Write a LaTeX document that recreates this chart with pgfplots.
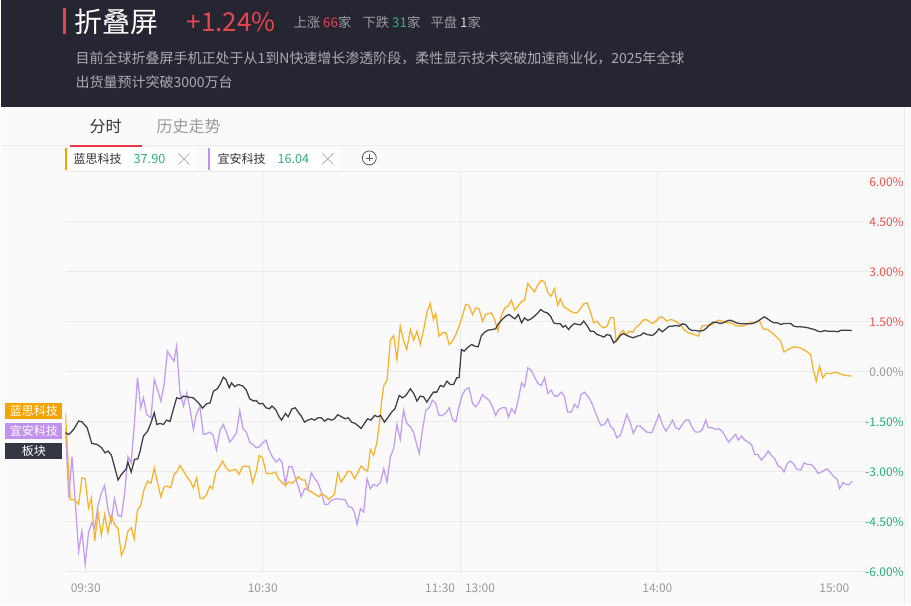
\documentclass[border=0pt]{standalone}
\usepackage{fontspec}
\setmainfont{Noto Sans CJK SC}
\usepackage{pgfplots}
\pgfplotsset{compat=1.18}
\definecolor{hdr}{HTML}{262633}
\definecolor{bgc}{HTML}{FAFAFA}
\definecolor{cor}{HTML}{F9B22C}
\definecolor{cpu}{HTML}{C49CF3}
\definecolor{cbk}{HTML}{3D3E48}
\definecolor{tagor}{HTML}{F5A300}
\definecolor{tagpu}{HTML}{C291EE}
\definecolor{tagbk}{HTML}{343844}
\definecolor{tr}{HTML}{F0504A}
\definecolor{tg}{HTML}{22B07A}
\definecolor{tgy}{HTML}{9A9A9A}
\definecolor{gridc}{HTML}{ECECEC}
\definecolor{hred}{HTML}{E8454F}
\definecolor{hgrn}{HTML}{2DB37C}
\definecolor{hgray}{HTML}{9C9CA4}
\definecolor{dgray}{HTML}{ABABB3}
\definecolor{tabred}{HTML}{E8394A}
\newcommand\fs[1]{\fontsize{#1}{#1}\selectfont}
\begin{document}
\begin{tikzpicture}
\begin{scope}[x=0.75pt,y=-0.75pt]
\fill[bgc] (0,0) rectangle (911,605);
\fill[hdr] (0,0) rectangle (911,107);
\fill[hred] (63,8) rectangle (66,34);
\node[anchor=west,inner sep=0pt,text=white,font=\fs{21pt}] at (74,22) {折叠屏};
\node[anchor=west,inner sep=0pt,text=hred,font=\fs{19.5pt}] at (186,22) {+1.24\%};
\node[anchor=west,inner sep=0pt,text=hgray,font=\fs{10pt}] at (293,22) {上涨 \textcolor{hred}{66}家};
\node[anchor=west,inner sep=0pt,text=hgray,font=\fs{10pt}] at (362,22) {下跌 \textcolor{hgrn}{31}家};
\node[anchor=west,inner sep=0pt,text=hgray,font=\fs{10pt}] at (430,22) {平盘 \textcolor{white!85!black}{1}家};
\node[anchor=west,inner sep=0pt,text=dgray,font=\fs{10.5pt}] at (75,58) {目前全球折叠屏手机正处于从1到N快速增长渗透阶段，柔性显示技术突破加速商业化，2025年全球};
\node[anchor=west,inner sep=0pt,text=dgray,font=\fs{10.5pt}] at (75,82) {出货量预计突破3000万台};
\draw[gridc,line width=0.75pt] (0,146) -- (904,146);
\fill[tabred] (70,144.8) rectangle (142,147.3);
\node[anchor=west,inner sep=0pt,text=black!80,font=\fs{12pt}] at (89,127) {分时};
\node[anchor=west,inner sep=0pt,text=tgy,font=\fs{12pt}] at (156,127) {历史走势};
% legend chips
\fill[white] (65,148) rectangle (195,170);
\fill[tagor] (65,148) rectangle (67,170);
\node[anchor=west,inner sep=0pt,text=black!80,font=\fs{9pt}] at (73,159) {蓝思科技};
\node[anchor=west,inner sep=0pt,text=hgrn,font=\fs{9.5pt}] at (133,159) {37.90};
\draw[black!30,line width=0.6pt] (178,153.5) -- (189,164.5) (178,164.5) -- (189,153.5);
\fill[white] (208,148) rectangle (339,170);
\fill[tagpu] (208,148) rectangle (210,170);
\node[anchor=west,inner sep=0pt,text=black!80,font=\fs{9pt}] at (217,159) {宜安科技};
\node[anchor=west,inner sep=0pt,text=hgrn,font=\fs{9.5pt}] at (277,159) {16.04};
\draw[black!30,line width=0.6pt] (322,153.5) -- (333,164.5) (322,164.5) -- (333,153.5);
\draw[black!65,line width=0.6pt] (369,158) circle (7);
\draw[black!65,line width=0.6pt] (365.5,158) -- (372.5,158) (369,154.5) -- (369,161.5);
\end{scope}
\begin{axis}[
  at={(48.75pt,-429pt)}, anchor=south west,
  scale only axis, width=629.25pt, height=300pt,
  xmin=0, xmax=255, ymin=-6, ymax=6,
  axis line style={draw=none}, tick style={draw=none},
  clip mode=individual,
  xtick={0,60,120,180,240},
  xticklabels={\hbox to 0pt{\hspace*{4pt}09:30\hss}, 10:30, 11:30\hspace{7.5pt}13:00, 14:00, \hbox to 0pt{\hss 15:00\hspace*{4pt}}},
  extra x ticks={60,120,180}, extra x tick labels={},
  extra x tick style={xmajorgrids=true},
  ytick={-6,-4.5,-3,-1.5,0,1.5,3,4.5,6},
  yticklabels={\textcolor{tg}{-6.00\%},\textcolor{tg}{-4.50\%},\textcolor{tg}{-3.00\%},\textcolor{tg}{-1.50\%},\textcolor{tgy}{0.00\%},\textcolor{tr}{1.50\%},\textcolor{tr}{3.00\%},\textcolor{tr}{4.50\%},{}},
  yticklabel pos=right,
  ymajorgrids=true, xmajorgrids=false,
  major grid style={gridc,line width=0.75pt},
  yticklabel style={anchor=east,inner sep=0pt,font=\fs{9pt}},
  xticklabel style={anchor=north,inner sep=0pt,font=\fs{9pt},text=tgy,yshift=-9pt},
]
\addplot[cpu,line width=0.95pt] coordinates {
(0,-1.7) (1,-3.78) (2,-2.55) (3,-3.93) (4,-5.38) (5,-4.78) (6,-5.78) (7,-4.83) (8,-4.53) (8.9,-4.68) (9.9,-4.01) (10.9,-3.65) (11.9,-3.41) (12.9,-4.11) (13.9,-4.51) (14.9,-3.81) (16,-4.31) (17,-4.35) (18,-3.65) (19,-2.55) (20,-2.73) (20.9,-1.63) (21.9,-0.18) (22.9,-1.08) (23.7,-0.78) (24.7,-1.28) (26,-1.38) (27,-0.23) (28,-0.53) (29,-0.88) (30,-0.38) (31,0.62) (32,0.45) (33,0.32) (33.8,0.77) (34.8,-0.61) (35.9,-1.03) (36.9,-0.63) (37.9,-1.13) (38.9,-1.73) (39.9,-1.23) (40.9,-1.05) (41.9,-1.88) (42.9,-1.86) (43.9,-1.81) (44.9,-1.90) (45.9,-2.35) (47,-1.75) (48,-1.58) (49,-1.83) (50,-2.11) (51,-1.98) (52,-1.83) (53,-1.16) (54,-1.71) (55,-1.81) (56,-2.11) (57,-2.18) (58,-2.28) (59,-2.25) (60,-2.13) (61,-2.05) (61.9,-2.35)
(63.1,-2.58) (64.1,-2.71) (65.1,-2.61) (65.9,-2.73) (66.9,-3.38) (67.9,-2.85) (68.9,-2.85) (69.9,-3.18) (70.9,-3.48) (71.7,-3.75) (72.7,-3.51) (73.7,-3.53) (74.8,-3.03) (75.8,-3.21) (76.8,-3.33) (77.8,-3.61) (78.8,-3.98) (79.8,-3.98) (80.8,-3.86) (81.8,-3.83) (82.8,-3.81) (84,-3.83) (85,-3.83) (86.1,-4.05) (87.1,-4.08) (87.9,-4.23) (88.7,-4.58) (89.7,-4.11) (90.7,-4.21) (91.7,-3.21) (92.7,-3.51) (93.7,-3.38) (94.7,-3.43) (95.8,-3.31) (96.8,-2.91) (97.8,-3.31) (98.8,-2.55) (99.8,-2.31) (100.8,-1.58) (101.8,-2.03) (102.8,-1.15) (103.8,-1.55) (104.9,-1.65) (105.9,-1.83) (106.9,-2.23) (107.6,-2.45) (108.6,-1.71) (109.6,-1.15) (110.6,-1.08) (111.6,-0.85) (112.6,-0.95) (113.6,-1.31) (114.6,-1.31) (115.7,-1.23) (116.7,-1.08) (117.7,-1.43) (118.7,-1.51)
(119.7,-1.03) (120.7,-0.68) (121.7,-0.53) (122.7,-0.48) (123.8,-0.95) (124.8,-1.05) (125.8,-0.91) (126.8,-0.68) (127.8,-0.78) (128.8,-0.85) (129.8,-1.03) (130.8,-1.31) (131.8,-1.13) (132.8,-1.08) (133.9,-1.08) (134.7,-1.36) (135.7,-1.11) (136.7,-1.25) (137.7,-0.83) (138.7,-0.33) (139.6,-0.45) (140.6,0.12) (141.6,0.05) (142.6,-0.15) (143.7,-0.35) (144.7,-0.41) (145.7,-0.18) (146.7,-0.65) (147.7,-0.55) (148.7,-0.73) (149.7,-0.73) (150.7,-0.61) (151.7,-0.73) (152.7,-1.21) (153.8,-1.21) (154.8,-0.98) (155.8,-1.08) (156.8,-0.68) (157.8,-0.61) (158.8,-0.73) (159.8,-0.88) (160.8,-1.13) (161.8,-1.38) (162.8,-1.61) (163.9,-1.58) (164.9,-1.41) (165.7,-1.63) (166.7,-1.73) (167.7,-1.98) (168.7,-1.91) (169.7,-1.61) (170.7,-1.28) (171.7,-1.51) (172.7,-1.85) (173.8,-1.63) (174.8,-1.63) (175.8,-1.73) (176.8,-1.81)
(178.3,-1.83) (179.5,-1.53) (180.5,-1.28) (181.5,-1.58) (182.6,-1.78) (183.6,-1.63) (184.6,-1.45) (185.6,-1.68) (186.6,-1.73) (187.6,-1.58) (188.6,-1.45) (189.6,-1.45) (190.6,-1.68) (191.6,-1.81) (192.7,-1.81) (193.7,-1.73) (194.7,-1.45) (195.5,-1.68) (196.7,-1.68) (197.7,-1.73) (198.7,-1.71) (199.7,-1.78) (200.7,-1.95) (201.7,-2.11) (202.8,-1.98) (203.8,-1.88) (204.6,-2.05) (205.6,-1.93) (206.6,-2.05) (207.6,-2.11) (208.6,-2.18) (209.6,-2.48) (210.6,-2.48) (211.6,-2.65) (212.7,-2.53) (213.7,-2.38) (214.7,-2.51) (215.7,-2.61) (216.7,-2.83) (217.7,-2.88) (218.5,-3.01) (219.5,-2.75) (220.5,-2.68) (221.5,-2.78) (222.5,-2.93) (223.6,-2.95) (224.6,-2.73) (225.6,-2.78) (226.8,-2.78) (227.8,-2.88) (228.8,-3.05) (229.8,-3.01) (230.8,-2.95) (231.6,-2.91) (232.7,-3.03) (233.7,-3.15) (234.7,-3.23) (235.4,-3.51) (236.4,-3.33) (237.4,-3.38) (238.4,-3.38) (239.2,-3.28)
};
\addplot[cor,line width=0.95pt] coordinates {
(0,-1.23) (0.7,-2.53) (1.5,-3.83) (2.7,-3.83) (4,-3.98) (5,-3.18) (6,-3.21) (7,-4.08) (7.9,-3.78) (8.9,-5.08) (9.9,-4.21) (10.9,-4.91) (11.9,-4.28) (12.9,-4.83) (13.9,-4.31) (14.9,-4.58) (16,-4.71) (17,-5.51) (18,-5.28) (19,-4.78) (20,-4.68) (20.9,-5.01) (21.9,-4.15) (22.9,-4.01) (23.9,-3.53) (25,-3.28) (26,-3.35) (27,-2.88) (28,-3.33) (29,-3.75) (30,-3.45) (31,-3.43) (32,-3.48) (33,-3.08) (34,-2.98) (34.8,-2.81) (35.9,-2.98) (36.9,-3.15) (37.9,-3.28) (38.9,-3.48) (39.9,-3.18) (40.9,-3.78) (41.9,-3.81) (42.9,-3.68) (43.9,-3.43) (44.7,-3.51) (45.7,-3.01) (46.7,-2.88) (47.8,-2.68) (48.8,-2.88) (49.8,-2.98) (50.8,-2.95) (51.8,-2.93) (52.8,-3.08) (53.8,-2.85) (54.8,-2.83) (55.9,-2.85) (56.9,-3.33) (57.9,-3.03) (58.9,-2.51) (59.9,-2.58) (61.1,-3.05)
(62.8,-3.05) (63.8,-3.01) (64.9,-3.23) (65.9,-3.33) (66.9,-3.41) (67.9,-3.31) (68.9,-3.35) (69.9,-3.25) (70.9,-3.15) (71.9,-3.25) (72.9,-3.25) (73.7,-3.55) (74.9,-3.61) (76,-3.68) (77,-3.75) (78,-3.65) (79,-3.73) (80,-3.83) (81,-3.75) (81.8,-3.68) (82.8,-3.03) (83.8,-3.31) (84.9,-3.15) (85.9,-2.98) (86.9,-3.01) (87.9,-3.21) (88.9,-3.03) (89.9,-2.83) (90.9,-2.93) (91.9,-2.98) (92.7,-2.33) (93.7,-2.51) (94.7,-2.13) (95.6,-1.43) (96.2,-0.83) (96.8,-0.41) (97.8,-0.25) (98.8,0.95) (99.8,1.09) (100.8,0.37) (101.8,1.37) (102.8,0.95) (103.8,0.67) (104.9,1.27) (105.9,0.95) (106.9,1.22) (107.9,0.82) (108.9,1.25) (109.9,1.77) (110.9,2.05) (111.9,1.57) (112.6,1.75) (113.6,1.07) (114.6,1.17) (115.7,1.17) (116.7,0.82) (117.7,0.92) (118.7,1.12)
(119.7,1.37) (120.7,1.67) (121.7,2.02) (122.7,1.99) (123.8,1.72) (124.8,1.92) (125.8,1.89) (126.8,1.52) (127.8,1.72) (129.5,1.77) (130.5,1.57) (131.5,1.22) (132.5,1.67) (133.6,1.92) (134.6,1.97) (135.6,2.15) (136.6,1.85) (137.6,1.97) (138.6,2.10) (139.6,2.15) (140.6,2.65) (141.6,2.52) (142.6,2.40) (143.7,2.62) (144.7,2.75) (145.7,2.69) (146.7,2.37) (147.7,2.27) (148.7,2.49) (149.7,1.99) (150.5,2.19) (151.5,1.95) (152.5,1.89) (153.6,1.82) (154.6,1.77) (155.6,1.77) (156.6,1.89) (157.6,2.04) (158.6,2.07) (159.6,1.82) (160.6,1.47) (161.6,1.52) (162.6,1.39) (163.7,1.32) (164.7,1.37) (165.7,1.62) (166.7,1.62) (167.5,0.92) (168.5,1.12) (169.5,1.25) (170.5,1.12) (171.5,1.22) (172.5,1.19) (173.6,1.35) (174.6,1.42) (175.6,1.55) (176.6,1.57)
(178.5,1.45) (179.5,1.52) (180.8,1.65) (181.8,1.62) (182.9,1.52) (183.9,1.57) (184.9,1.55) (185.9,1.49) (186.9,1.42) (187.9,1.29) (189.4,1.17) (190.6,1.14) (192.5,1.07) (193.5,1.37) (194.7,1.40) (196,1.39) (197.2,1.45) (198.5,1.55) (199.7,1.52) (201,1.47) (202.5,1.47) (203.8,1.39) (205.1,1.37) (206.6,1.39) (208.1,1.47) (209.6,1.49) (211.1,1.52) (212.1,1.29) (213.5,1.27) (214.9,1.17) (216.2,1.05) (217.5,0.92) (218.5,0.59) (219.7,0.67) (221.5,0.75) (223.3,0.72) (224.8,0.65) (226.6,0.52) (227.3,0.12) (228.3,-0.28) (229.3,0.17) (230.3,-0.18) (231.3,-0.05) (232.7,-0.05) (234.4,-0.01) (235.9,-0.08) (237.4,-0.11) (239.1,-0.13)
};
\addplot[cbk,line width=0.95pt] coordinates {
(0,-1.83) (1,-1.88) (2.5,-1.73) (4,-1.48) (5,-1.50) (6.6,-1.68) (8,-2.15) (9.6,-2.18) (11,-2.28) (12,-2.43) (13,-2.38) (14,-2.51) (15,-2.88) (16,-3.25) (17,-3.08) (18.4,-2.93) (19,-2.71) (20,-3.01) (21,-2.63) (22,-2.61) (22.7,-2.38) (23.7,-1.93) (25,-1.78) (26,-1.53) (27,-1.23) (27.8,-1.58) (28.8,-1.55) (29.8,-1.58) (30.8,-1.45) (31.8,-1.49) (32.8,-1.13) (33.8,-0.78) (34.8,-0.81) (35.9,-0.73) (37.4,-0.76) (38.9,-0.78) (40.4,-0.93) (41.7,-1.09) (42.9,-0.96) (44,-0.93) (45,-0.58) (46.2,-0.51) (47,-0.38) (48,-0.16) (48.8,-0.23) (49.8,-0.48) (50.5,-0.33) (51.5,-0.45) (52.5,-0.38) (54,-0.43) (55,-0.55) (56,-0.81) (57.3,-0.88) (58,-0.86) (58.9,-0.96) (60,-0.95) (61,-1.08) (62,-1.11)
(62.8,-1.03) (63.9,-1.13) (64.9,-1.33) (65.7,-1.45) (66.9,-1.25) (67.7,-1.35) (68.9,-1.11) (69.9,-1.08) (70.9,-1.23) (71.7,-1.33) (72.7,-1.51) (73.7,-1.45) (74.8,-1.41) (75.8,-1.45) (76.8,-1.38) (77.8,-1.38) (78.8,-1.48) (79.8,-1.41) (81,-1.45) (81.8,-1.41) (82.8,-1.29) (84,-1.35) (85,-1.41) (86,-1.38) (87,-1.51) (88.1,-1.55) (89.1,-1.63) (89.9,-1.70) (90.9,-1.55) (91.9,-1.41) (92.9,-1.45) (94,-1.31) (95,-1.35) (95.8,-1.31) (97,-1.51) (98,-1.38) (99.2,-1.21) (100.2,-1.11) (101.5,-0.71) (102.5,-0.78) (103.5,-0.71) (104.9,-0.51) (105.9,-0.65) (106.9,-0.88) (107.9,-0.73) (108.9,-0.75) (109.9,-0.91) (110.9,-0.75) (111.9,-0.61) (112.9,-0.61) (114,-0.41) (115,-0.45) (116,-0.28) (117,-0.38) (118,-0.38) (119,-0.18) (119.7,-0.18)
(120.4,0.67) (121.2,0.62) (122.2,0.72) (123.5,0.82) (124.5,0.77) (125.5,0.75) (126.5,1.09) (127.5,1.19) (128.5,1.25) (129.8,1.27) (130.8,1.29) (131.5,1.42) (132.8,1.57) (133.9,1.67) (134.9,1.72) (135.9,1.64) (136.7,1.59) (137.7,1.72) (138.7,1.47) (139.6,1.62) (140.6,1.54) (141.6,1.59) (142.6,1.67) (143.7,1.77) (144.5,1.87) (145.5,1.80) (146.5,1.77) (147.5,1.67) (148.5,1.47) (149.5,1.44) (150.5,1.44) (151.3,1.34) (152,1.39) (153,1.27) (153.8,1.37) (154.8,1.45) (155.8,1.42) (156.6,1.41) (157.6,1.52) (158.6,1.39) (159.6,1.22) (160.6,1.22) (161.6,1.12) (162.6,1.09) (163.7,1.04) (164.7,1.12) (165.7,1.09) (166.7,0.87) (167.7,0.95) (168.7,1.09) (169.7,1.15) (170.7,1.09) (171.7,1.05) (172.7,1.02) (173.8,1.07) (174.8,1.09) (175.8,1.17) (176.8,1.12)
(178.5,1.09) (179.5,1.17) (180.5,1.29) (181.5,1.20) (182.6,1.29) (183.6,1.37) (184.6,1.37) (185.6,1.39) (186.6,1.37) (187.6,1.44) (188.6,1.42) (189.6,1.29) (190.6,1.24) (191.6,1.24) (192.7,1.22) (194,1.24) (195,1.32) (196,1.42) (197,1.49) (198,1.49) (199,1.45) (200,1.47) (201,1.52) (202,1.55) (203,1.52) (204,1.47) (205,1.45) (206,1.44) (207,1.44) (208,1.44) (209,1.45) (210,1.49) (211,1.55) (212.5,1.65) (213.5,1.59) (214.5,1.52) (215.5,1.47) (216.5,1.47) (217.5,1.42) (218.5,1.45) (219.5,1.45) (220.5,1.45) (221.5,1.37) (222.5,1.35) (223.5,1.35) (224.8,1.34) (225.8,1.32) (226.8,1.29) (227.8,1.27) (228.8,1.22) (229.8,1.20) (230.8,1.24) (231.8,1.22) (232.8,1.22) (233.8,1.22) (234.8,1.20) (235.9,1.25) (236.9,1.25) (237.9,1.25) (239.1,1.24)
};
\node[anchor=east,inner sep=0pt,font=\fs{9pt},text=tr,yshift=-7.8pt] at (axis cs:255,6) {6.00\%};
\end{axis}
\begin{scope}[x=0.75pt,y=-0.75pt]
\draw[gridc,line width=0.75pt] (904,107) -- (904,605);
\fill[tagor] (5,403) rectangle (62,419);
\node[text=white,inner sep=0pt,font=\fs{9pt}] at (33.5,411) {蓝思科技};
\fill[tagpu] (5,423) rectangle (62,439);
\node[text=white,inner sep=0pt,font=\fs{9pt}] at (33.5,431) {宜安科技};
\fill[tagbk] (5,443) rectangle (62,459);
\node[text=white,inner sep=0pt,font=\fs{9pt}] at (33.5,451) {板块};
\end{scope}
\end{tikzpicture}
\end{document}
